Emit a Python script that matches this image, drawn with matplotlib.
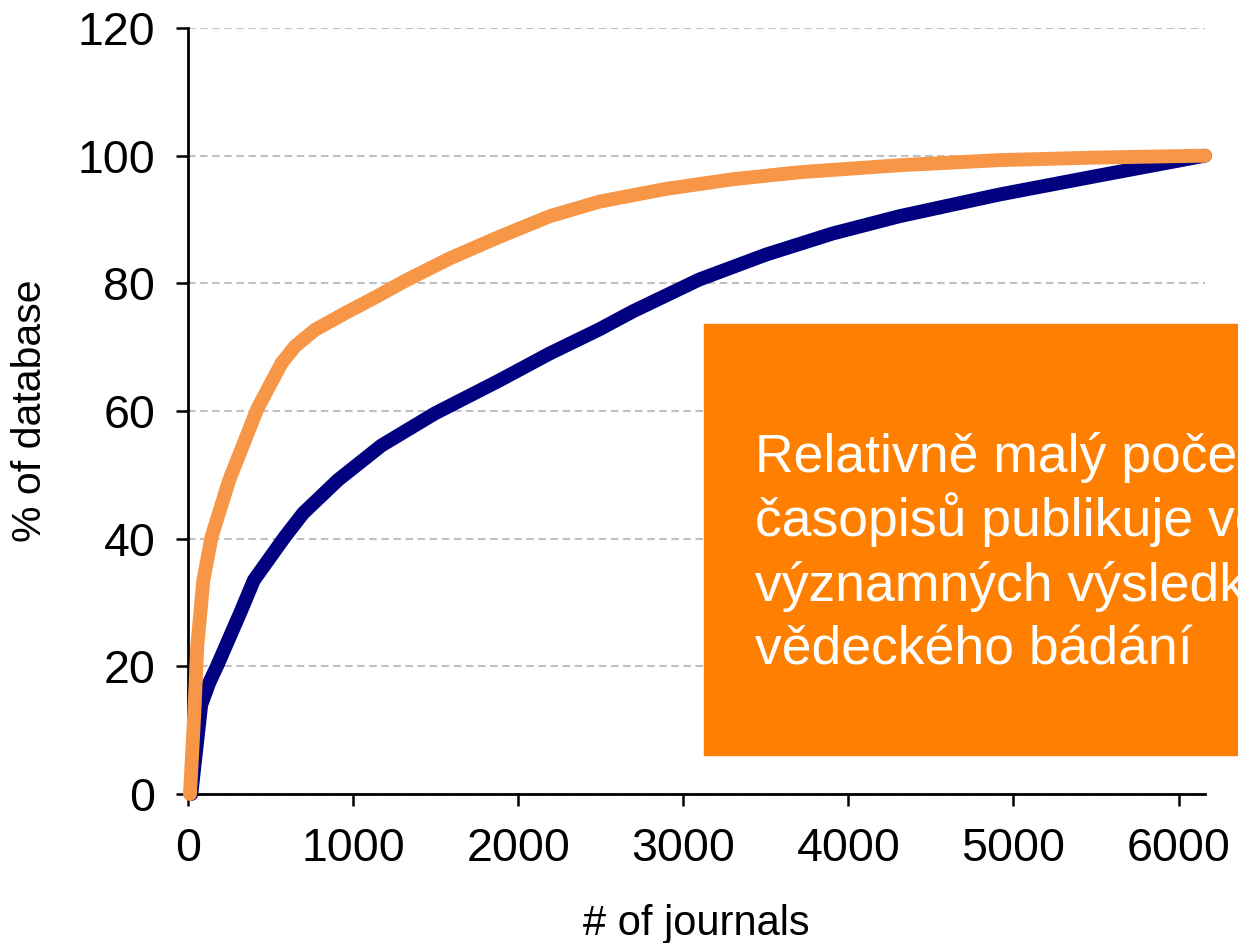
import matplotlib
matplotlib.use("Agg")
import matplotlib.pyplot as plt
from matplotlib.patches import Rectangle

plt.rcParams["font.family"] = ["Liberation Sans", "DejaVu Sans"]

# cumulative share of the database vs number of journals
blue_x = [20, 50, 80, 130, 177, 315, 399, 587, 698, 909, 1172, 1494, 1887, 2190,
          2492, 2694, 3097, 3501, 3904, 4307, 4912, 5500, 6160]
blue_y = [0, 7, 14, 17.5, 20.1, 28.3, 33.5, 40.3, 44.0, 49.2, 54.6, 59.6, 64.8, 69.0,
          72.8, 75.6, 80.6, 84.5, 87.8, 90.5, 93.9, 96.8, 100]

orange_x = [12, 38, 56, 93, 143, 250, 421, 567, 647, 768, 950, 1141, 1323, 1585,
            1887, 2190, 2492, 2896, 3299, 3702, 4307, 4912, 5500, 6160]
orange_y = [0, 12.6, 23.1, 33.5, 40.3, 49.2, 60.4, 67.5, 70.1, 72.7, 75.3, 77.9, 80.5, 83.9,
            87.3, 90.5, 92.8, 94.8, 96.3, 97.4, 98.5, 99.3, 99.7, 100]

x_ticks = [0, 1000, 2000, 3000, 4000, 5000, 6000]
y_ticks = [0, 20, 40, 60, 80, 100, 120]

box_lines = ["Relativně malý počet",
             "časopisů publikuje většinu",
             "významných výsledků",
             "vědeckého bádání"]

fig = plt.figure(figsize=(12.38, 9.43), dpi=100)
ax = fig.add_axes([188 / 1238, 149 / 943, 1017 / 1238, 766 / 943])

ax.plot(blue_x, blue_y, color="#000080", lw=10, solid_capstyle="round",
        solid_joinstyle="round", clip_on=False, zorder=3)
ax.plot(orange_x, orange_y, color="#F79646", lw=10, solid_capstyle="round",
        solid_joinstyle="round", clip_on=False, zorder=4)

ax.set_xlim(0, 6160)
ax.set_ylim(0, 120)
ax.set_xticks(x_ticks)
ax.set_yticks(y_ticks)

ax.set_axisbelow(True)
ax.yaxis.grid(True, color="#C0C0C0", lw=1.5, linestyle=(0, (3.6, 2.2)))

for side in ["top", "right"]:
    ax.spines[side].set_visible(False)
for side in ["left", "bottom"]:
    ax.spines[side].set_linewidth(2)

ax.tick_params(axis="both", direction="out", length=8.5, width=1.8, labelsize=33.5)
ax.tick_params(axis="y", pad=15)
ax.tick_params(axis="x", pad=15)

ax.set_xlabel("# of journals", fontsize=30)
ax.set_ylabel("% of database", fontsize=29.5)
ax.xaxis.set_label_coords(0.5, -0.143)
ax.yaxis.set_label_coords(-0.137, 0.5)

# orange call-out box, running off the right edge
fig.add_artist(Rectangle((704 / 1238, 188 / 943), 0.5, 431 / 943,
                         transform=fig.transFigure, color="#FF8000", zorder=5))
for i, line in enumerate(box_lines):
    baseline = 472 + i * 64.3
    fig.text(755 / 1238, (943 - baseline) / 943, line, color="white", fontsize=38.5,
             va="baseline", ha="left", zorder=6)

fig.savefig("out.png", dpi=100)
